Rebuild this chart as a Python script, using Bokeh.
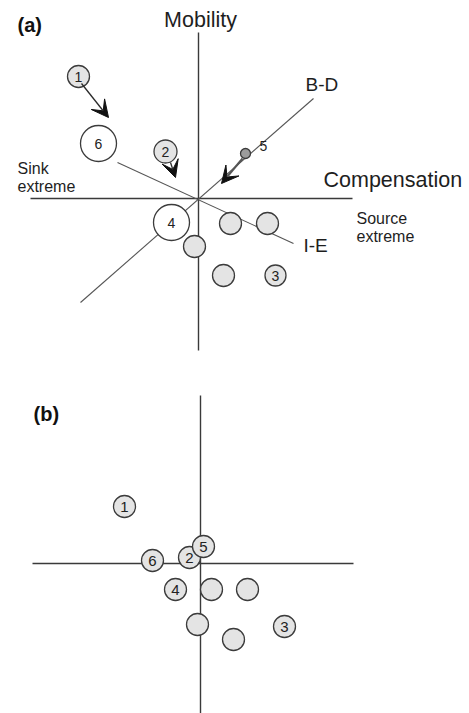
from bokeh.plotting import figure
from bokeh.layouts import column
from bokeh.models import ColumnDataSource, Arrow, VeeHead
from bokeh.core.properties import value
from bokeh.embed import file_html
from bokeh.resources import INLINE

FONT = "Liberation Sans"

# ---------------- panel (a) data (arbitrary diagram units) ----------------
a_x = [-12.0, -10.0, -3.3, 4.7, -2.7, 3.2, 6.9, -0.4, 2.5, 7.7]
a_y = [12.2, 5.5, 4.7, 4.5, -2.4, -2.5, -2.5, -4.8, -7.7, -7.7]
a_r = [1.1, 1.8, 1.15, 0.5, 1.8, 1.1, 1.1, 1.1, 1.1, 1.05]
a_lab = ["1", "6", "2", "", "4", "", "", "", "", "3"]
a_fill = ["#e4e4e4", "#ffffff", "#e4e4e4", "#9c9c9c", "#ffffff",
          "#e4e4e4", "#e4e4e4", "#e4e4e4", "#e4e4e4", "#e4e4e4"]

# axes of the diagram (horizontal, vertical)
a_hx = [-16.8, 15.4]
a_vy = [-15.2, 16.6]
# B-D and I-E lines
bd_x = [11.5, -11.8]
bd_y = [10.0, -10.4]
ie_x = [-8.1, 9.5]
ie_y = [3.6, -4.5]
# arrows: start -> end
arr_x0 = [-11.7, -2.8, 4.4]
arr_y0 = [11.5, 3.6, 4.0]
arr_x1 = [-9.0, -2.3, 2.3]
arr_y1 = [8.1, 2.1, 1.5]

# ---------------- panel (b) data ----------------
b_x = [-7.6, -4.8, -1.1, 0.3, -2.5, 1.1, 4.7, -0.3, 3.3, 8.4]
b_y = [5.7, 0.3, 0.6, 1.7, -2.6, -2.6, -2.6, -6.1, -7.6, -6.3]
b_r = [1.1] * 10
b_lab = ["1", "6", "2", "5", "4", "", "", "", "", "3"]
b_hx = [-16.8, 15.3]
b_vy = [-15.0, 16.8]


def base(height, xr, yr):
    p = figure(width=469, height=height, x_range=xr, y_range=yr,
               output_backend="svg", toolbar_location=None,
               min_border=0, min_border_left=0, min_border_right=0,
               min_border_top=0, min_border_bottom=0)
    p.axis.visible = False
    p.grid.visible = False
    p.outline_line_color = None
    p.background_fill_color = "white"
    p.border_fill_color = "white"
    return p


def txt(p, x, y, s, size, align="left", baseline="alphabetic", bold=False, color="#1e1e1e"):
    p.text(x=[x], y=[y], text=[s], text_font=value(FONT),
           text_font_size=f"{size}px", text_align=align, text_baseline=baseline,
           text_font_style="bold" if bold else "normal", text_color=color)


# ---------------- figure (a) ----------------
pa = base(360, (-19.8, 27.1), (-16.2, 19.8))
pa.line(a_hx, [0, 0], line_color="#3a3a3a", line_width=1.4)
pa.line([0, 0], a_vy, line_color="#3a3a3a", line_width=1.4)
pa.line(bd_x, bd_y, line_color="#555555", line_width=1.1)
pa.line(ie_x, ie_y, line_color="#555555", line_width=1.1)

src_a = ColumnDataSource(dict(x=a_x, y=a_y, r=a_r, lab=a_lab, fill=a_fill))
pa.circle(x="x", y="y", radius="r", source=src_a, fill_color="fill",
          line_color="#3c3c3c", line_width=1.3)
pa.text(x="x", y="y", text="lab", source=src_a, text_font=value(FONT),
        text_font_size="14px", text_align="center", text_baseline="middle",
        text_color="#222222")

arrow_colors = ["#2a2a2a", "#2a2a2a", "#555555"]
arrow_widths = [1.3, 1.3, 2.0]
for i in range(len(arr_x0)):
    pa.add_layout(Arrow(x_start=arr_x0[i], y_start=arr_y0[i],
                        x_end=arr_x1[i], y_end=arr_y1[i],
                        line_color=arrow_colors[i], line_width=arrow_widths[i],
                        end=VeeHead(size=17, fill_color="#111111",
                                    line_color="#111111", line_width=1)))

txt(pa, 0.2, 17.9, "Mobility", 21.5, align="center")
txt(pa, 12.5, 1.9, "Compensation", 21.5)
txt(pa, 10.7, 11.4, "B-D", 19)
txt(pa, 10.5, -4.7, "I-E", 19)
txt(pa, -18.1, 3.0, "Sink", 16)
txt(pa, -18.1, 1.2, "extreme", 16)
txt(pa, 15.8, -2.0, "Source", 16)
txt(pa, 15.8, -3.8, "extreme", 16)
txt(pa, 6.5, 5.3, "5", 14, align="center", baseline="middle")
txt(pa, -18.1, 17.4, "(a)", 20, bold=True, color="#111111")

# ---------------- figure (b) ----------------
pb = base(353, (-20.0, 26.9), (-15.0, 20.3))
pb.line(b_hx, [0, 0], line_color="#3a3a3a", line_width=1.4)
pb.line([0, 0], b_vy, line_color="#3a3a3a", line_width=1.4)
src_b = ColumnDataSource(dict(x=b_x, y=b_y, r=b_r, lab=b_lab))
pb.circle(x="x", y="y", radius="r", source=src_b, fill_color="#e4e4e4",
          line_color="#3c3c3c", line_width=1.3)
pb.text(x="x", y="y", text="lab", source=src_b, text_font=value(FONT),
        text_font_size="15px", text_align="center", text_baseline="middle",
        text_color="#222222")
txt(pb, -16.7, 15.0, "(b)", 20, bold=True, color="#111111")

layout = column(pa, pb, spacing=0)
open("out.html", "w").write(file_html(layout, INLINE))
